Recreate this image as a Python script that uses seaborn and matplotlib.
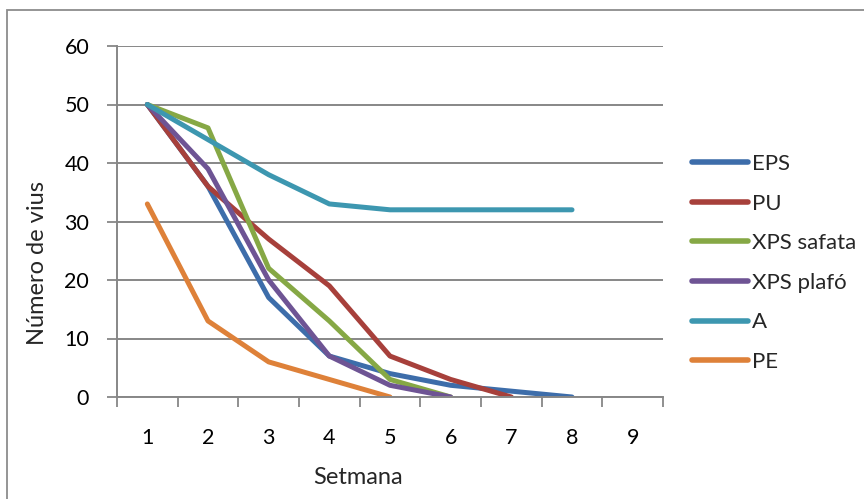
import matplotlib
matplotlib.use("Agg")
import matplotlib.pyplot as plt
from matplotlib.patches import Rectangle
from matplotlib.ticker import FixedLocator
import numpy as np
import pandas as pd
import seaborn as sns

# Survival of vius per insulation material, by week
series_names = ["EPS", "PU", "XPS safata", "XPS plafó", "A", "PE"]
eps = [50, 36, 17, 7, 4, 2, 1, 0]
pu = [50, 36, 27, 19, 7, 3, 0]
xps_safata = [50, 46, 22, 13, 3, 0]
xps_plafo = [50, 39, 20, 7, 2, 0]
a_vals = [50, 44, 38, 33, 32, 32, 32, 32]
pe = [33, 13, 6, 3, 0]
week_labels = ["1", "2", "3", "4", "5", "6", "7", "8", "9"]

colors = ["#3D6DAA", "#A7403B", "#86A845", "#6E5494", "#3D97B0", "#DE8139"]

rows = []
for name, vals in zip(series_names, [eps, pu, xps_safata, xps_plafo, a_vals, pe]):
    for i, v in enumerate(vals):
        rows.append({"Setmana": i + 1, "Número de vius": v, "Material": name})
df = pd.DataFrame(rows)

sns.set_theme(style="white")
plt.rcParams["font.family"] = ["Lato", "DejaVu Sans"]

W, H = 864, 499
fig = plt.figure(figsize=(W / 100, H / 100), dpi=100)


def fx(px):
    return px / W


def fy(py):
    return 1 - py / H


ax = fig.add_axes([fx(117), fy(397), fx(663) - fx(117), fy(46) - fy(397)])

grey = "#878787"
sns.lineplot(
    data=df, x="Setmana", y="Número de vius", hue="Material",
    hue_order=series_names, palette=colors, linewidth=3.6,
    sort=False, estimator=None, ax=ax, legend=True,
)
for ln in ax.get_lines():
    ln.set_solid_capstyle("round")
    ln.set_solid_joinstyle("round")

ax.set_xlim(0.5, 9.5)
ax.set_ylim(0, 60)
ax.set_xlabel("")
ax.set_ylabel("")

# category axis: labels at centres, tick marks at boundaries
ax.set_xticks(range(1, 10))
ax.set_xticklabels(week_labels)
ax.xaxis.set_minor_locator(FixedLocator(np.arange(0.5, 10, 1.0)))
ax.tick_params(axis="x", which="major", length=0, pad=22, labelsize=15.5, colors="black")
ax.tick_params(axis="x", which="minor", length=7, width=1.3, color=grey, direction="out", bottom=True)

ax.set_yticks(range(0, 61, 10))
ax.tick_params(axis="y", which="major", length=7, width=1.3, color=grey, direction="out",
               pad=13, labelsize=15.5, labelcolor="black", left=True)

ax.grid(axis="y", color=grey, linewidth=1.4)
ax.set_axisbelow(True)
for side in ["top", "right"]:
    ax.spines[side].set_visible(False)
for side in ["left", "bottom"]:
    ax.spines[side].set_color(grey)
    ax.spines[side].set_linewidth(1.4)

fig.text(fx(38), fy(263), "Número de vius", rotation=90, ha="center", va="center", fontsize=17)
fig.text(fx(358), fy(478), "Setmana", ha="center", va="center", fontsize=17)

handles, labels = ax.get_legend_handles_labels()
ax.legend_.remove()
for h in handles:
    h.set_linewidth(4.0)
    h.set_solid_capstyle("round")
fig.legend(
    handles, labels, loc="center left", bbox_to_anchor=(fx(692), fy(263)),
    frameon=False, fontsize=16, handlelength=2.5, handletextpad=0.18,
    labelspacing=0.88, borderpad=0, borderaxespad=0,
)

# outer chart frame
fig.patches.append(Rectangle((fx(7), fy(H + 20)), 1.2, fy(10) - fy(H + 20),
                             transform=fig.transFigure, fill=False,
                             edgecolor="#8C8C8C", linewidth=1.3))

fig.savefig("out.png", dpi=100)
